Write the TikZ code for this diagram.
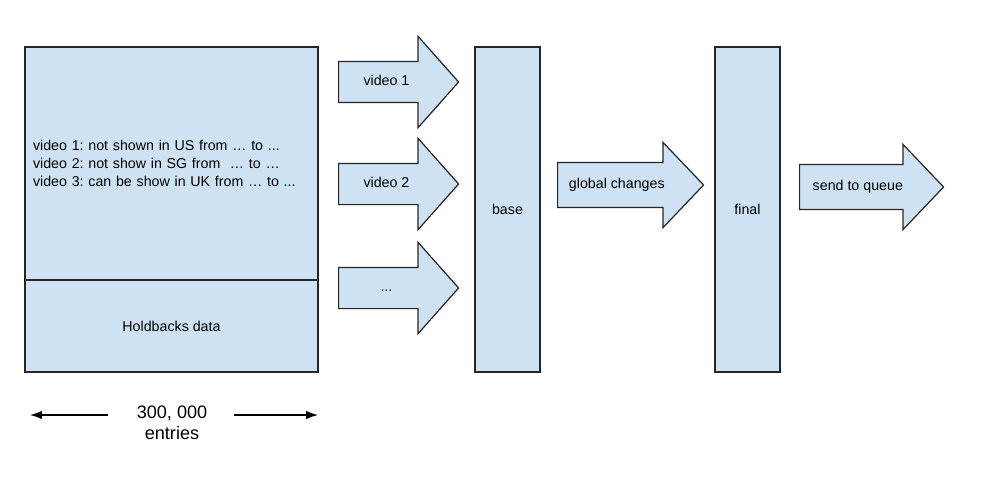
\documentclass[tikz,border=0pt]{standalone}
\usepackage{fontspec}
\setmainfont{Liberation Sans}
\frenchspacing
\usetikzlibrary{shapes.arrows,arrows.meta}
\definecolor{boxblue}{HTML}{CFE2F3}
\tikzset{
    blue box/.style={draw=black!85, fill=boxblue, line width=0.7pt, rectangle, inner sep=0pt},
    flow arrow/.style={draw=black!85, fill=boxblue, line width=0.7pt, single arrow,
        single arrow head indent=0pt, anchor=tail, inner xsep=0pt,
        text height=0.2cm, text depth=0.06cm, execute at end node={\hspace*{0.12cm}}},
    video arrow/.style={flow arrow, minimum height=2.4cm, inner ysep=0.27cm,
        single arrow head extend=0.5cm, single arrow tip angle=96.8},
    wide arrow/.style={flow arrow, minimum height=2.9cm, inner ysep=0.31cm,
        single arrow head extend=0.4cm, single arrow tip angle=92.8},
    size tip/.style={-{Latex[length=0.24cm,width=0.17cm]}, line width=0.6pt},
}

\begin{document}
\begin{tikzpicture}[x=0.02cm, y=-0.02cm, font=\fontsize{8.1}{10.2}\selectfont]
\useasboundingbox (0,0) rectangle (997,487);
\node[blue box, minimum width=5.86cm, minimum height=4.66cm, text width=5.54cm, align=left] (rows) at (171.5,163.5)
    {video 1: not shown in US from … to ...\\video 2: not show in SG from \ … to …\\video 3: can be show in UK from … to ...};
\node[blue box, minimum width=5.86cm, minimum height=1.84cm] (hold) at (171.5,326) {Holdbacks data};
\node[blue box, minimum width=1.3cm, minimum height=6.5cm] (base) at (507.5,209.5) {base};
\node[blue box, minimum width=1.3cm, minimum height=6.5cm] (final) at (747.5,209.5) {final};
\node[video arrow] (v1) at (338,82) {video 1};
\node[video arrow] (v2) at (338,184) {video 2};
\node[video arrow] (vn) at (338,288) {...};
\node[wide arrow, minimum height=2.92cm] (glob) at (557,185) {global changes};
\node[wide arrow, minimum height=2.88cm] (send) at (799,187) {send to queue};
\node[align=center, font=\fontsize{10.3}{11.8}\selectfont] (count) at (172,423) {300, 000\\entries};
\coordinate (l1) at (108,415);
\coordinate (l2) at (30,415);
\coordinate (r1) at (234,415);
\coordinate (r2) at (318,415);
\draw[size tip] (l1) -- (l2);
\draw[size tip] (r1) -- (r2);
\end{tikzpicture}
\end{document}
